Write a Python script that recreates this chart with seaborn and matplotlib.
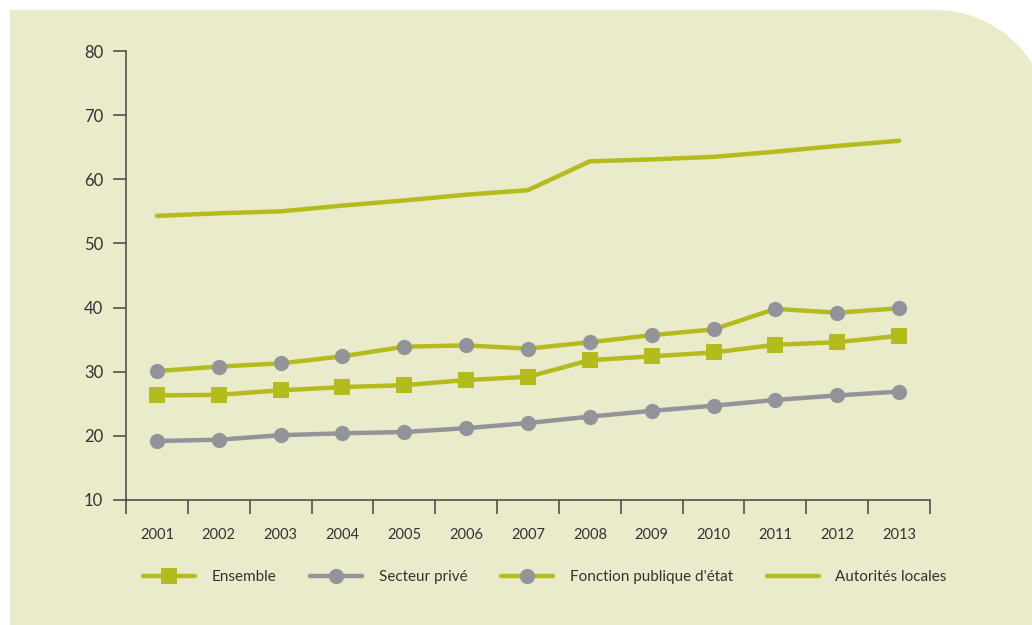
import numpy as np
import pandas as pd
import matplotlib
matplotlib.use("Agg")
import matplotlib.pyplot as plt
import seaborn as sns
from matplotlib.path import Path
from matplotlib.patches import PathPatch
from matplotlib.ticker import FixedLocator, NullFormatter

# --- data -------------------------------------------------------------
years = ["2001", "2002", "2003", "2004", "2005", "2006", "2007",
         "2008", "2009", "2010", "2011", "2012", "2013"]
ensemble = [26.3, 26.4, 27.1, 27.6, 27.9, 28.7, 29.2, 31.8, 32.4, 33.0, 34.2, 34.6, 35.6]
secteur_prive = [19.2, 19.4, 20.1, 20.4, 20.6, 21.2, 22.0, 23.0, 23.9, 24.7, 25.6, 26.3, 26.9]
fonction_publique = [30.1, 30.8, 31.3, 32.4, 33.9, 34.1, 33.6, 34.6, 35.7, 36.6, 39.8, 39.2, 39.9]
autorites_locales = [54.3, 54.7, 55.0, 55.9, 56.7, 57.6, 58.3, 62.8, 63.1, 63.5, 64.3, 65.2, 66.0]
series_names = ["Ensemble", "Secteur privé", "Fonction publique d'état", "Autorités locales"]
y_ticks = [10, 20, 30, 40, 50, 60, 70, 80]

GREEN = "#b4bb1c"
GREY = "#939499"
PANEL = "#eaebcb"
INK = "#333333"

sns.set_theme(style="ticks")
plt.rcParams["font.family"] = ["Lato", "DejaVu Sans"]

df = pd.DataFrame({
    "year": years * 4,
    "x": list(range(len(years))) * 4,
    "value": ensemble + secteur_prive + fonction_publique + autorites_locales,
    "series": sum([[s] * len(years) for s in series_names], []),
})

W, H = 1032, 625
fig = plt.figure(figsize=(W / 100, H / 100), dpi=100, facecolor="white")

# background panel with a rounded top-right corner (pixel coordinates, origin top-left)
r = 115.0
cx, cy = 935.0, 10.0 + r
theta = np.linspace(-np.pi / 2, 0, 60)
arc_x = cx + r * np.cos(theta)
arc_y = cy + r * np.sin(theta)
keep = arc_x <= W + 1
verts = [(10, H), (10, 10)] + list(zip(arc_x[keep], arc_y[keep])) + [(W, arc_y[keep][-1]), (W, H), (10, H)]
verts = [(vx / W, 1 - vy / H) for vx, vy in verts]
panel = PathPatch(Path(verts, closed=True), transform=fig.transFigure,
                  facecolor=PANEL, edgecolor="none", zorder=-10)
fig.patches.append(panel)

ax = fig.add_axes([126 / W, 1 - 500 / H, (930 - 126) / W, (500 - 51) / H])
ax.set_facecolor("none")
ax.set_zorder(1)

styles = {
    "Ensemble": dict(color=GREEN, marker="s", markersize=11, mfc=GREEN, mec=GREEN),
    "Secteur privé": dict(color=GREY, marker="o", markersize=11, mfc=GREY, mec=GREY),
    "Fonction publique d'état": dict(color=GREEN, marker="o", markersize=11, mfc=GREY, mec=GREY),
    "Autorités locales": dict(color=GREEN, marker=None),
}
for name in series_names:
    st = styles[name]
    sub = df[df["series"] == name]
    kw = dict(linewidth=3.2, color=st["color"], label=name)
    if st["marker"]:
        kw.update(marker=st["marker"], markersize=st["markersize"],
                  markerfacecolor=st["mfc"], markeredgecolor=st["mec"], markeredgewidth=0)
    sns.lineplot(data=sub, x="x", y="value", ax=ax, **kw)

ax.set_xlim(-0.5, len(years) - 0.5)
ax.set_ylim(10, 80)
ax.set_yticks(y_ticks)
ax.set_xlabel("")
ax.set_ylabel("")
if ax.get_legend() is not None:
    ax.get_legend().remove()

# year labels centred on the points, tick marks on the boundaries between years
ax.set_xticks(range(len(years)))
ax.set_xticklabels(years)
ax.tick_params(axis="x", which="major", length=0, pad=20, labelsize=10.5, labelcolor=INK)
ax.xaxis.set_minor_locator(FixedLocator(np.arange(-0.5, len(years), 1.0)))
ax.xaxis.set_minor_formatter(NullFormatter())
ax.tick_params(axis="x", which="minor", length=10, width=1.1, color="#444444", direction="out")
ax.tick_params(axis="y", length=9.5, width=1.1, color="#444444", pad=7,
               labelsize=12, labelcolor=INK)

for side in ("top", "right"):
    ax.spines[side].set_visible(False)
for side in ("left", "bottom"):
    ax.spines[side].set_color("#444444")
    ax.spines[side].set_linewidth(1.1)

handles, labels = ax.get_legend_handles_labels()
leg = fig.legend(handles, labels, loc="center left", bbox_to_anchor=(143 / W, 1 - 577 / H),
                 ncol=4, frameon=False, fontsize=11, handlelength=3.4, handletextpad=1.1,
                 columnspacing=2.2, borderaxespad=0, borderpad=0)
for t in leg.get_texts():
    t.set_color(INK)

fig.savefig("out.png", dpi=100, facecolor="white")
